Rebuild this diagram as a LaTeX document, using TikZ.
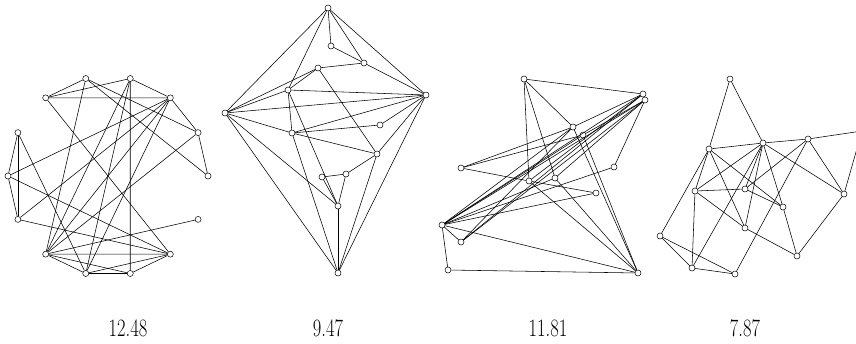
\documentclass[tikz,border=0pt]{standalone}
\usepackage{tikz}

\tikzset{
  vtx/.style={circle, draw, fill=white, inner sep=0pt, minimum size=6pt, line width=0.5pt},
  edge/.style={line width=0.55pt},
  lbl/.style={font=\fontsize{18.5}{18.5}\selectfont, inner sep=0pt}
}

\begin{document}
\begin{tikzpicture}[x=1pt, y=-1pt]
  % Marco
  \useasboundingbox (0,0) rectangle (856,343);
  \clip (0,0) rectangle (856,343);

  % Grafo 1 (14 vertices en circulo)
  \foreach \i in {0,...,13}
    \node[vtx] (a\i) at ({108+100*cos(\i*360/14)}, {176-100*sin(\i*360/14)}) {};
  \foreach \u/\v in {4/5, 3/5, 5/2, 5/12, 4/9, 4/1, 4/0, 3/2, 3/9, 3/10, 3/11,
                     2/1, 2/7, 2/9, 2/10, 1/0, 1/9, 6/7, 6/8, 6/10, 7/8, 7/12,
                     8/2, 8/12, 13/9, 9/12, 9/10, 9/11, 10/11, 10/12, 12/11}
    \draw[edge] (a\u) -- (a\v);

  % Grafo 2
  \foreach \n/\x/\y in {T/328/8, 1/331/46, 2/364/63, 3/318/68, 4/288/90,
                        R/426/95, L/225/113, 5/380/125, 6/292/133, 7/377/154,
                        8/322/177, 9/346/174, 10/338/206, B/338/273}
    \node[vtx] (b\n) at (\x,\y) {};
  \foreach \u/\v in {T/L, T/R, T/1, T/2, T/4, 1/2, 3/2, 2/R, L/3, L/4, 3/4,
                     3/7, 4/R, 4/6, 4/10, L/R, L/6, L/10, L/B, 6/R, 6/5, 6/7,
                     6/B, 5/R, 7/R, 7/9, 8/9, 8/10, 9/10, 10/B, B/R, 7/B}
    \draw[edge] (b\u) -- (b\v);

  % Grafo 3
  \foreach \n/\x/\y in {1/524/79, 2/643/94, 3/645/100, 4/573/127, 5/583/135,
                        6/461/168, 7/614/167, 8/529/181, 9/555/178, 10/596/193,
                        11/442/225, 12/461/242, 13/448/270, 14/638/273}
    \node[vtx] (c\n) at (\x,\y) {};
  \foreach \u/\v in {1/2, 1/4, 1/8, 1/9, 2/4, 2/11, 2/12, 2/8, 3/7, 3/5, 3/11,
                     3/12, 3/9, 4/6, 4/11, 4/12, 4/14, 5/6, 5/11, 5/14, 6/8,
                     8/10, 7/11, 8/14, 9/14, 9/11, 10/11, 11/12, 11/13, 11/14,
                     13/14}
    \draw[edge] (c\u) -- (c\v);

  % Grafo 4 (un vertice queda fuera del marco)
  \foreach \n/\x/\y in {1/730/79, 2/763/143, 3/808/139, 4/709/149, 5/844/194,
                        6/695/191, 7/745/189, 8/783/207, 9/745/228, 10/660/236,
                        11/797/256, 12/692/268, 13/735/274, X/862/131}
    \node[vtx] (d\n) at (\x,\y) {};
  \foreach \u/\v in {1/4, 1/2, 4/2, 2/3, 3/X, 5/X, 4/6, 4/10, 4/8, 4/9, 2/6,
                     2/7, 2/9, 2/12, 2/8, 2/5, 3/7, 3/13, 3/5, 5/11, 6/7, 6/9,
                     6/12, 7/8, 8/11, 9/11, 10/12, 10/13, 12/13}
    \draw[edge] (d\u) -- (d\v);

  % Valores
  \node[lbl] (v1) at (128,328) {\scalebox{1}[1.35]{12.48}};
  \node[lbl] (v2) at (328,328) {\scalebox{1}[1.35]{9.47}};
  \node[lbl] (v3) at (548,328) {\scalebox{1}[1.35]{11.81}};
  \node[lbl] (v4) at (745,328) {\scalebox{1}[1.35]{7.87}};
\end{tikzpicture}
\end{document}
